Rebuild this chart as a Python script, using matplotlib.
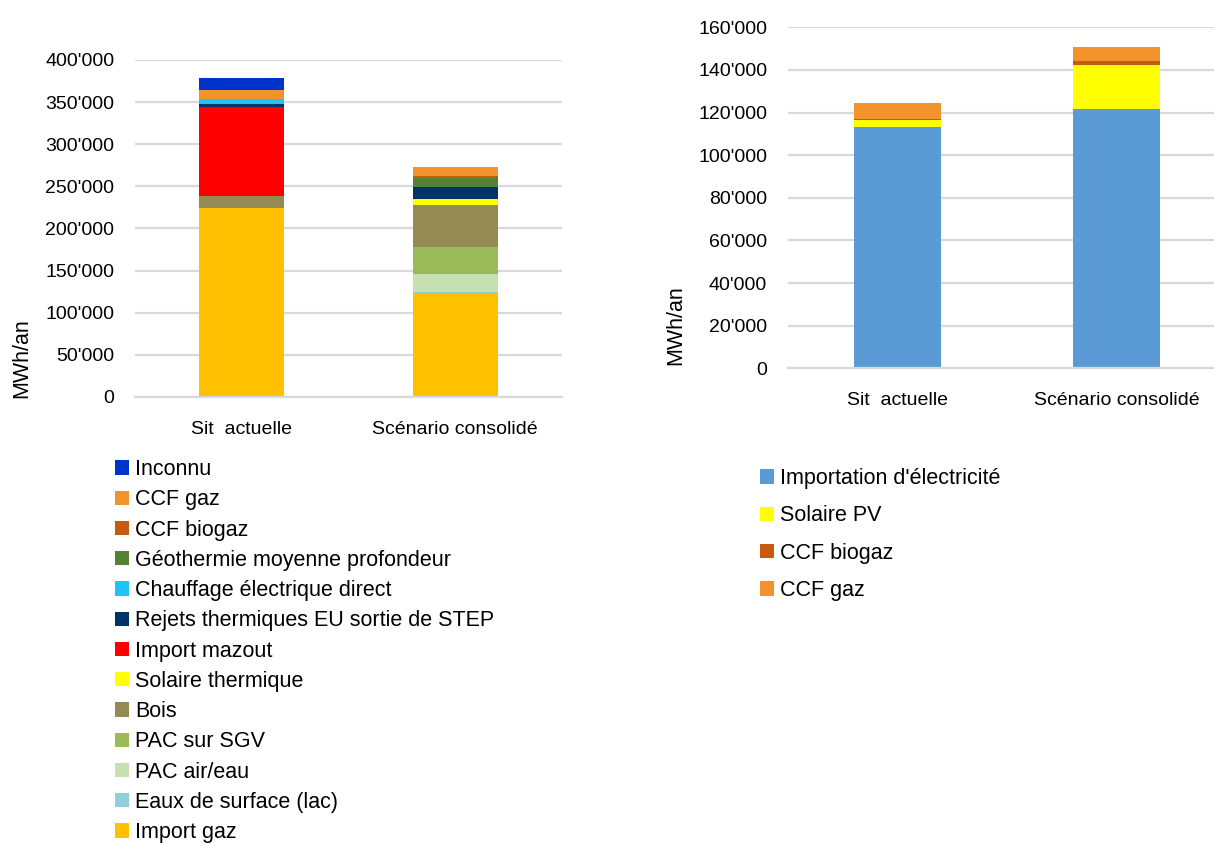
import matplotlib
matplotlib.use("Agg")
import matplotlib.pyplot as plt
from matplotlib.ticker import FuncFormatter, MultipleLocator
import numpy as np

plt.rcParams['font.family'] = ['Liberation Sans', 'DejaVu Sans']

categories = ["Sit  actuelle", "Scénario consolidé"]

# Heat supply (MWh/an), stacked from bottom to top
heat_labels = [
    "Import gaz", "Eaux de surface (lac)", "PAC air/eau", "PAC sur SGV", "Bois",
    "Solaire thermique", "Import mazout", "Rejets thermiques EU sortie de STEP",
    "Chauffage électrique direct", "Géothermie moyenne profondeur",
    "CCF biogaz", "CCF gaz", "Inconnu",
]
import_gaz = [224000, 123000]
eaux_surface = [0, 1500]
pac_air_eau = [0, 22000]
pac_sgv = [0, 31500]
bois = [15000, 50000]
solaire_thermique = [0, 6500]
import_mazout = [105000, 0]
rejets_step = [4000, 14500]
chauffage_elec = [5500, 0]
geothermie = [0, 10500]
ccf_biogaz_heat = [0, 2700]
ccf_gaz_heat = [11000, 11000]
inconnu = [14000, 0]
heat_colors = [
    "#FFC000", "#92CDDC", "#C6E0B4", "#9BBB59", "#948A54",
    "#FFFF00", "#FF0000", "#003366",
    "#1FC3F5", "#548235",
    "#C55A11", "#F2942B", "#0033CC",
]

# Electricity supply (MWh/an), stacked from bottom to top
elec_labels = ["Importation d'électricité", "Solaire PV", "CCF biogaz", "CCF gaz"]
import_elec = [113300, 121600]
solaire_pv = [3200, 20500]
ccf_biogaz_elec = [400, 2200]
ccf_gaz_elec = [7400, 6400]
elec_colors = ["#5B9BD5", "#FFFF00", "#C55A11", "#F2942B"]

W, H = 1214, 843
fig = plt.figure(figsize=(W / 100, H / 100), dpi=100)

FS = 14
LFS = 15.5
GRID = "#D9D9D9"
fmt = FuncFormatter(lambda v, p: f"{int(v):,}".replace(",", "'"))


def style_axes(ax, ymax, step):
    ax.set_ylim(0, ymax)
    ax.set_xlim(-0.5, 1.5)
    ax.yaxis.set_major_locator(MultipleLocator(step))
    ax.yaxis.set_major_formatter(fmt)
    ax.grid(axis="y", color=GRID, linewidth=1.6)
    ax.set_axisbelow(True)
    for s in ["top", "right", "left"]:
        ax.spines[s].set_visible(False)
    ax.spines["bottom"].set_color(GRID)
    ax.spines["bottom"].set_linewidth(1.6)
    ax.tick_params(axis="both", length=0, labelsize=FS)
    ax.tick_params(axis="y", pad=15)
    ax.tick_params(axis="x", pad=17)
    ax.set_xticks(range(len(categories)))
    ax.set_xticklabels(categories)


x = np.arange(len(categories))

# Left panel: heat
ax1 = fig.add_axes([135 / W, 1 - 397 / H, 427 / W, 337 / H])
heat_series = [import_gaz, eaux_surface, pac_air_eau, pac_sgv, bois,
               solaire_thermique, import_mazout, rejets_step, chauffage_elec,
               geothermie, ccf_biogaz_heat, ccf_gaz_heat, inconnu]
bottom = np.zeros(len(categories))
heat_handles = []
for vals, lab, col in zip(heat_series, heat_labels, heat_colors):
    b = ax1.bar(x, vals, 0.40, bottom=bottom, color=col, label=lab, linewidth=0)
    heat_handles.append(b)
    bottom += np.array(vals)
style_axes(ax1, 400000, 50000)
fig.text(22 / W, 1 - 358 / H, "MWh/an", rotation=90, ha="center", va="center", fontsize=15.5)

fig.legend(heat_handles[::-1], heat_labels[::-1], loc="upper left",
           bbox_to_anchor=(115 / W, 1 - 459 / H), frameon=False, fontsize=LFS,
           handlelength=0.65, handleheight=0.65, handletextpad=0.28,
           labelspacing=0.43, borderpad=0, borderaxespad=0)

# Right panel: electricity
ax2 = fig.add_axes([788 / W, 1 - 368.3 / H, 438 / W, 341 / H])
elec_series = [import_elec, solaire_pv, ccf_biogaz_elec, ccf_gaz_elec]
bottom = np.zeros(len(categories))
elec_handles = []
for vals, lab, col in zip(elec_series, elec_labels, elec_colors):
    b = ax2.bar(x, vals, 0.40, bottom=bottom, color=col, label=lab, linewidth=0)
    elec_handles.append(b)
    bottom += np.array(vals)
style_axes(ax2, 160000, 20000)
fig.text(676 / W, 1 - 325 / H, "MWh/an", rotation=90, ha="center", va="center", fontsize=15.5)

fig.legend(elec_handles, elec_labels, loc="upper left",
           bbox_to_anchor=(760 / W, 1 - 468 / H), frameon=False, fontsize=LFS,
           handlelength=0.65, handleheight=0.65, handletextpad=0.28,
           labelspacing=0.76, borderpad=0, borderaxespad=0)

fig.savefig("out.png", dpi=100)
